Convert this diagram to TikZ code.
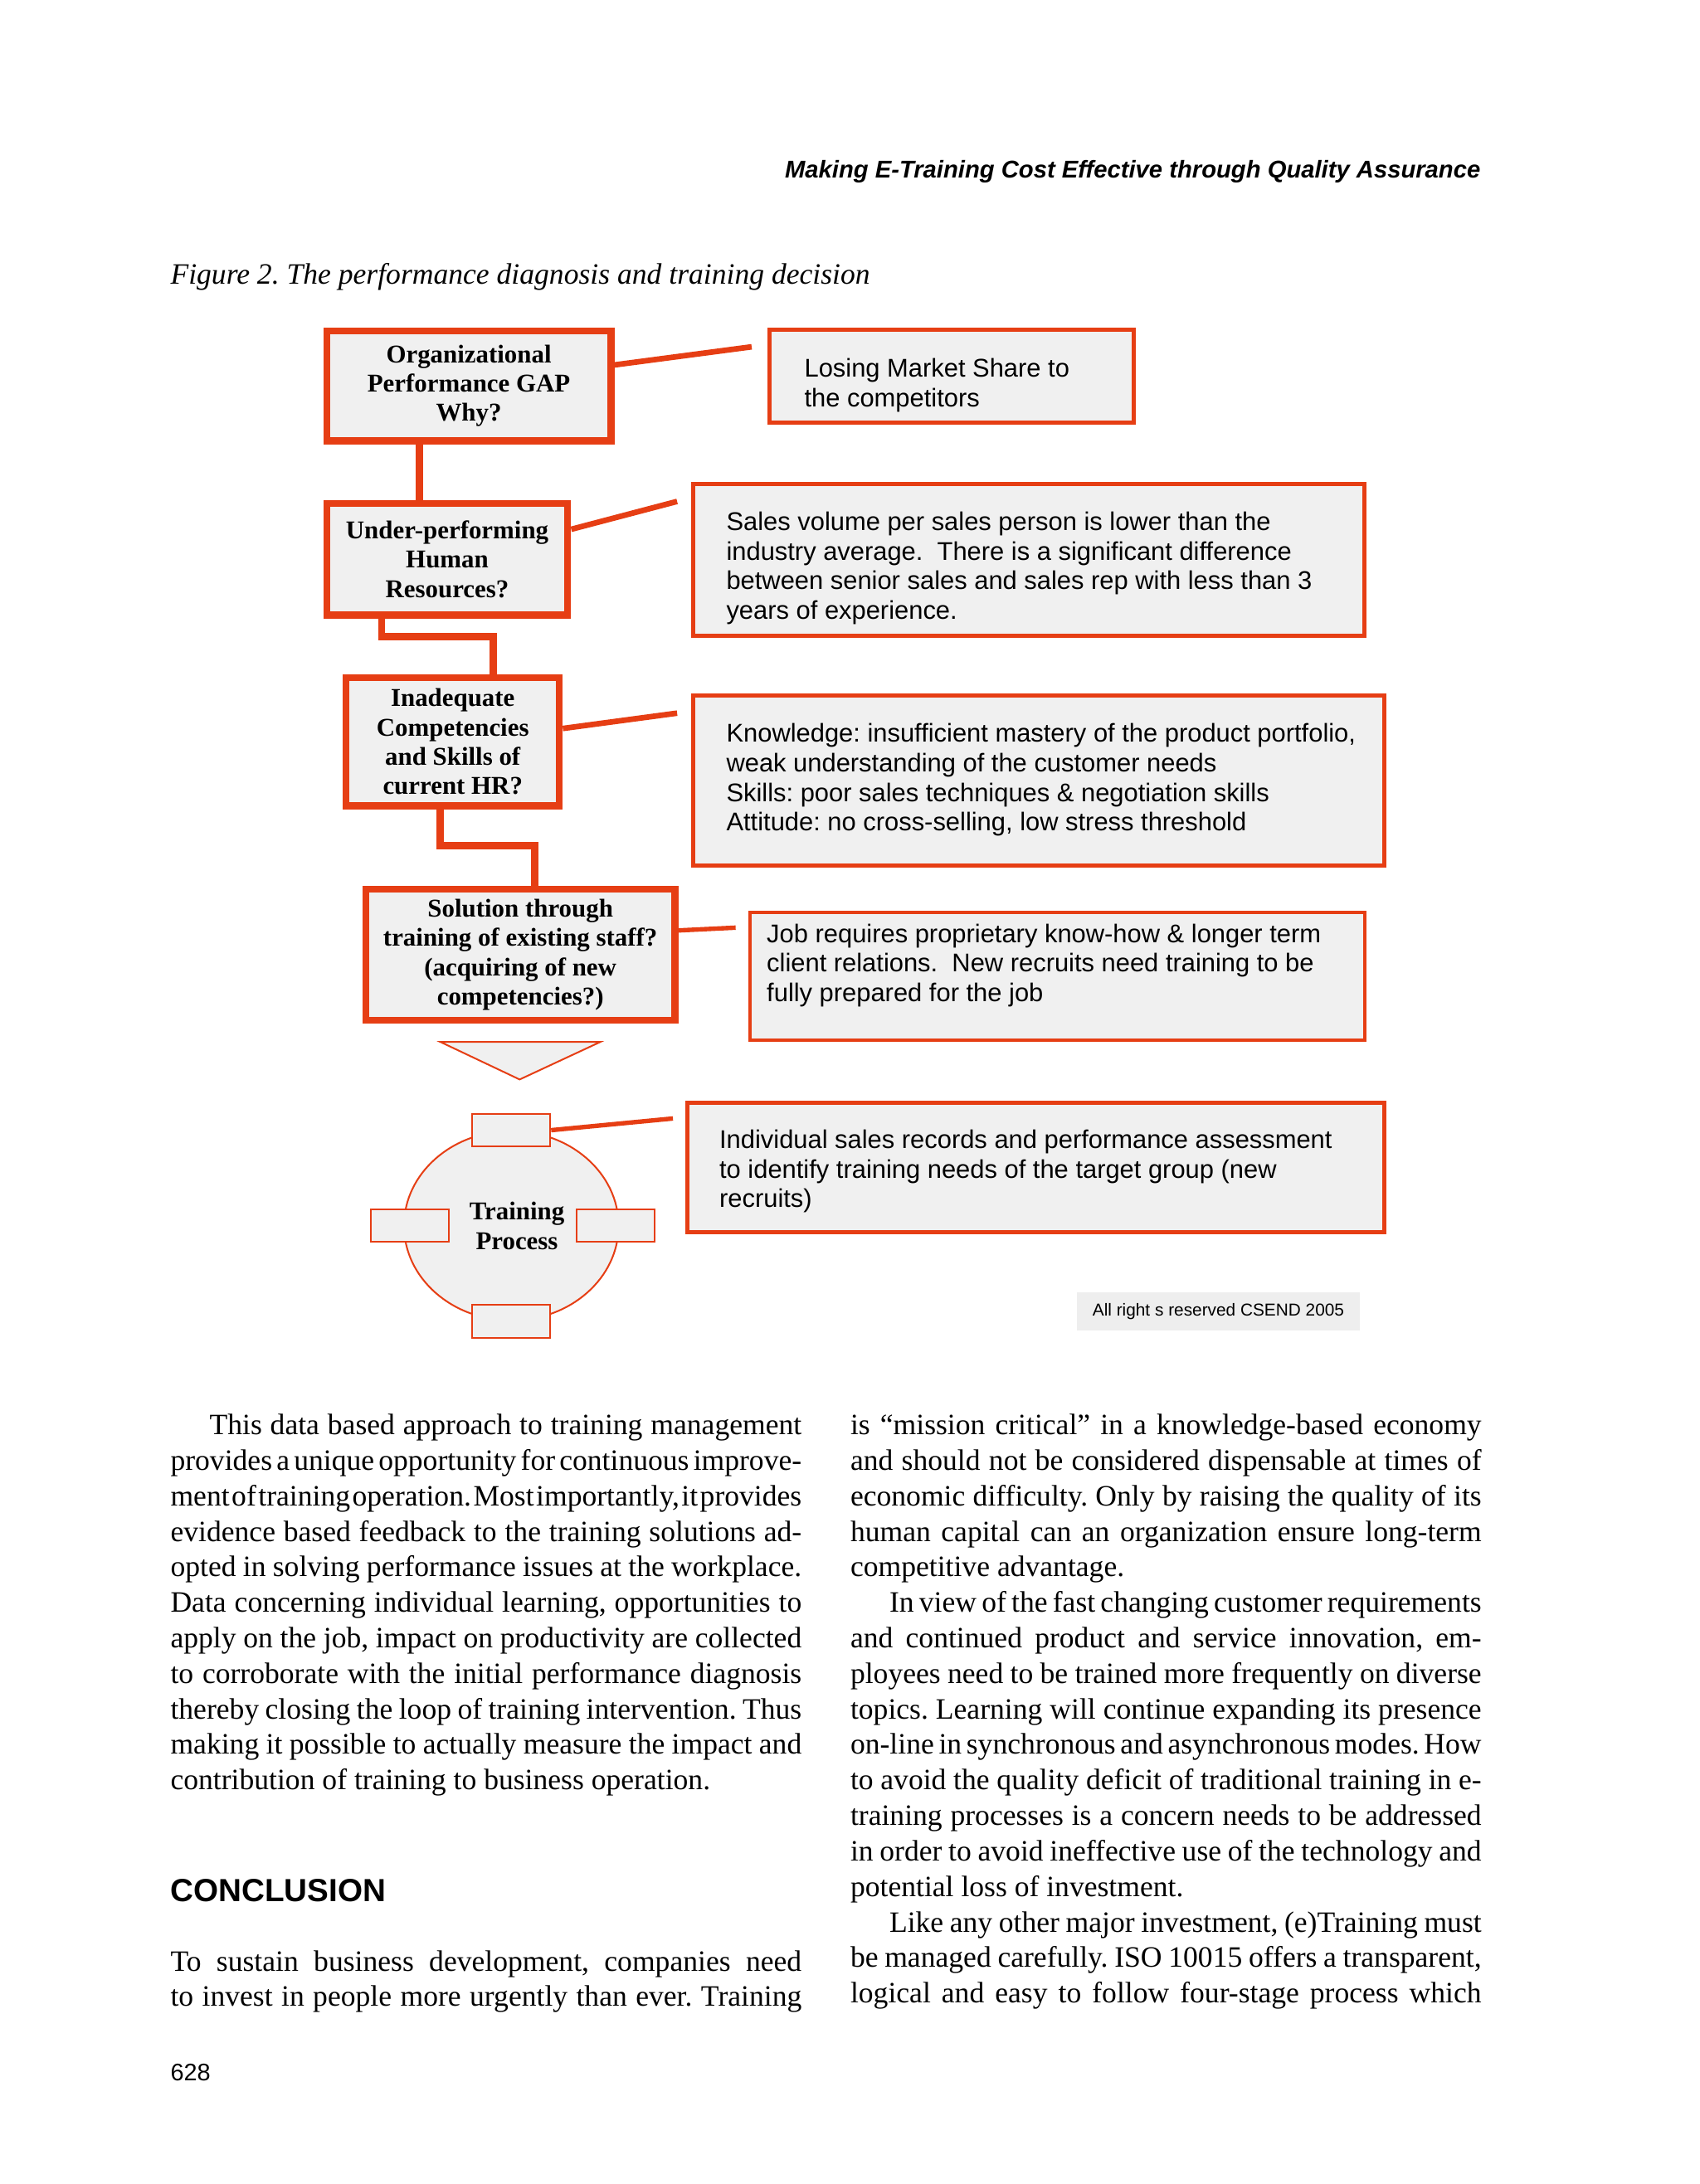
\documentclass[tikz,border=0pt]{standalone}
\usepackage{fontspec}
\setmainfont{Liberation Serif}
\setsansfont{Liberation Sans}
\usetikzlibrary{calc,shapes.geometric}

\definecolor{boxred}{RGB}{230,62,20}
\definecolor{boxgray}{RGB}{240,240,240}
\definecolor{notegray}{RGB}{238,238,238}

% tight justified setting of the page columns
\newcommand{\colset}{\frenchspacing\hyphenpenalty=10000 \tolerance=10000 \spaceskip=.25em plus .4em minus .22em\relax}

\tikzset{
	gapbox/.style={draw=boxred, line width=2.5pt, fill=boxgray, align=center, inner sep=0pt, font=\bfseries\fontsize{9.2}{10.5}\selectfont},
	factbox/.style={draw=boxred, line width=1.5pt, fill=boxgray, inner sep=0pt},
	facttext/.style={anchor=west, align=left, inner sep=0pt, font=\sffamily\fontsize{9.2}{10.6}\selectfont\frenchspacing},
	tab/.style={draw=boxred, line width=0.6pt, fill=boxgray, minimum width=28pt, minimum height=11.7pt, inner sep=0pt},
	stem/.style={draw=boxred, line width=2.6pt},
	link/.style={draw=boxred, line width=2pt},
	bodytext/.style={anchor=base west, inner sep=0pt, text width=226.5pt, align=justify, font=\fontsize{10.6}{12.75}\selectfont}
}

\begin{document}
\begin{tikzpicture}[x=0.5pt,y=-0.5pt]
	\useasboundingbox (0,0) rectangle (1220,1568);
	\fill[white] (0,0) rectangle (1220,1568);

	% running head and caption
	\node[anchor=base east, inner sep=0pt, font=\sffamily\bfseries\itshape\fontsize{8.7}{10}\selectfont] (runhead) at (1063,128) {Making E-Training Cost Effective through Quality Assurance};
	\node[anchor=base west, inner sep=0pt, font=\itshape\fontsize{10.6}{12}\selectfont\frenchspacing] (caption) at (122,204) {Figure 2. The performance diagnosis and training decision};

	% diagnosis chain
	\node[gapbox, minimum width=102pt, minimum height=39.5pt] (orggap) at (336.5,277) {Organizational\\Performance GAP\\Why?};
	\node[gapbox, minimum width=86.5pt, minimum height=40pt] (underhr) at (321,401.5) {Under-performing\\Human\\Resources?};
	\node[gapbox, minimum width=76.5pt, minimum height=46pt] (inadequate) at (325,532.5) {Inadequate\\Competencies\\and Skills of\\current HR?};
	\node[gapbox, minimum width=111pt, minimum height=47pt] (solution) at (373.5,685.5) {Solution through\\training of existing staff?\\(acquiring of new\\competencies?)};

	% evidence boxes
	\node[factbox, minimum width=130.5pt, minimum height=33.5pt] (loss) at (683,270) {};
	\node[factbox, minimum width=241pt, minimum height=54.5pt] (sales) at (738.5,402) {};
	\node[factbox, minimum width=248pt, minimum height=61pt] (knowledge) at (745.5,560.5) {};
	\node[factbox, line width=1.2pt, minimum width=220.8pt, minimum height=45.8pt] (job) at (759,701) {};
	\node[factbox, minimum width=250pt, minimum height=46.5pt] (records) at (743.5,838) {};

	\node[facttext] (losstext) at (577,276.5) {Losing Market Share to\\the competitors};
	\node[facttext] (salestext) at (521,408) {Sales volume per sales person is lower than the\\industry average.\ \ There is a significant difference\\between senior sales and sales rep with less than 3\\years of experience.};
	\node[facttext] (knowtext) at (521,560) {Knowledge: insufficient mastery of the product portfolio,\\weak understanding of the customer needs\\Skills: poor sales techniques \& negotiation skills\\Attitude: no cross-selling, low stress threshold};
	\node[facttext] (jobtext) at (550,693) {Job requires proprietary know-how \& longer term\\client relations.\ \ New recruits need training to be\\fully prepared for the job};
	\node[facttext] (recordtext) at (516,841) {Individual sales records and performance assessment\\to identify training needs of the target group (new\\recruits)};

	% training cycle
	\draw[draw=boxred, line width=0.6pt, fill=boxgray] (316,748) -- (431,748) -- (373,775) -- cycle;
	\node[ellipse, draw=boxred, line width=0.6pt, fill=boxgray, minimum width=77pt, minimum height=68pt, inner sep=0pt, align=center, font=\bfseries\fontsize{9.2}{10.8}\selectfont] (cycle) at (367,880) {\hspace*{4pt}Training\\\hspace*{4pt}Process};
	\node[tab] (tabtop) at (cycle.north) {};
	\node[tab] (tabbottom) at (cycle.south) {};
	\node[tab, xshift=2.5pt] (tableft) at (cycle.west) {};
	\node[tab, xshift=-1.5pt] (tabright) at (cycle.east) {};

	\node[fill=notegray, minimum width=101.5pt, minimum height=13.5pt, inner sep=0pt, font=\sffamily\fontsize{6.2}{7}\selectfont] (rights) at (874.5,941.5) {All right s reserved CSEND 2005};

	% connectors
	\draw[link] ($(orggap.east)+(0,-15)$) -- ($(loss.west)+(-11.5,-21)$);
	\draw[link] ($(underhr.east)+(0,-21.5)$) -- ($(sales.west)+(-10,-42)$);
	\draw[link] ($(inadequate.east)+(0,-9.5)$) -- ($(knowledge.west)+(-10,-48.5)$);
	\draw[link, line width=1.6pt] ($(solution.east)+(0,-17.5)$) -- ($(job.west)+(-9,-35)$);
	\draw[link, line width=1.6pt] (tabtop.east) -- ($(records.west)+(-9,-35)$);

	\coordinate (stemA) at ($(orggap.south)+(-35.5,0)$);
	\draw[stem] (stemA) -- (stemA |- underhr.north);
	\coordinate (elbowB) at ($(underhr.south)+(-47,0)$);
	\coordinate (elbowC) at ($(inadequate.north)+(29,0)$);
	\draw[stem] (elbowB) -- ++(0,13) -| (elbowC);
	\coordinate (elbowD) at ($(inadequate.south)+(-9,0)$);
	\coordinate (elbowE) at ($(solution.north)+(10.5,0)$);
	\draw[stem] (elbowD) -- ++(0,26) -| (elbowE);

	% body text
	\node[bodytext] (leftpara) at (122,1030) {\colset\hspace*{14pt}This data based approach to training management\linebreak provides a unique opportunity for continuous improve-\linebreak ment of training operation. Most importantly, it provides\linebreak evidence based feedback to the training solutions ad-\linebreak opted in solving performance issues at the workplace.\linebreak Data concerning individual learning, opportunities to\linebreak apply on the job, impact on productivity are collected\linebreak to corroborate with the initial performance diagnosis\linebreak thereby closing the loop of training intervention. Thus\linebreak making it possible to actually measure the impact and\linebreak contribution of training to business operation.};
	\node[anchor=base west, inner sep=0pt, font=\sffamily\bfseries\fontsize{11.5}{13}\selectfont] (conclusion) at (122,1365) {CONCLUSION};
	\node[bodytext] (sustainpara) at (122,1415) {\colset To sustain business development, companies need\linebreak to invest in people more urgently than ever. Training\linebreak};

	\node[bodytext] (rightpara) at (610,1030) {\colset is “mission critical” in a knowledge-based economy\linebreak and should not be considered dispensable at times of\linebreak economic difficulty. Only by raising the quality of its\linebreak human capital can an organization ensure long-term\linebreak competitive advantage.};
	\node[bodytext] (viewpara) at (610,1157.5) {\colset\hspace*{14pt}In view of the fast changing customer requirements\linebreak and continued product and service innovation, em-\linebreak ployees need to be trained more frequently on diverse\linebreak topics. Learning will continue expanding its presence\linebreak on-line in synchronous and asynchronous modes. How\linebreak to avoid the quality deficit of traditional training in e-\linebreak training processes is a concern needs to be addressed\linebreak in order to avoid ineffective use of the technology and\linebreak potential loss of investment.};
	\node[bodytext] (isopara) at (610,1387) {\colset\hspace*{14pt}Like any other major investment, (e)Training must\linebreak be managed carefully. ISO 10015 offers a transparent,\linebreak logical and easy to follow four-stage process which\linebreak};

	\node[anchor=base west, inner sep=0pt, font=\sffamily\fontsize{8.6}{10}\selectfont] (folio) at (122,1494) {628};
\end{tikzpicture}
\end{document}
